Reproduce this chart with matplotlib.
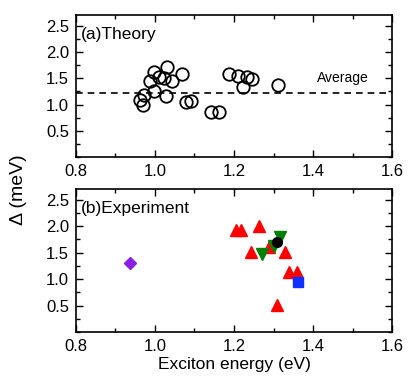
import matplotlib
matplotlib.use("Agg")
import matplotlib.pyplot as plt
from matplotlib.ticker import MultipleLocator

plt.rcParams['font.family'] = ['Liberation Sans', 'DejaVu Sans']

# Theory data
theory_x = [0.962, 0.972, 0.970, 0.997, 0.987, 0.998, 1.011, 1.023, 1.030, 1.028, 1.044,
            1.068, 1.078, 1.091, 1.143, 1.163, 1.188, 1.211, 1.234, 1.223, 1.246, 1.312]
theory_y = [1.09, 1.175, 1.00, 1.61, 1.44, 1.25, 1.52, 1.51, 1.72, 1.16, 1.44,
            1.59, 1.04, 1.07, 0.86, 0.86, 1.575, 1.55, 1.53, 1.325, 1.49, 1.375]
average = 1.225

# Experiment data
red_x = [1.205, 1.218, 1.264, 1.242, 1.288, 1.330, 1.340, 1.360, 1.310]
red_y = [1.925, 1.925, 2.00, 1.52, 1.61, 1.52, 1.125, 1.125, 0.51]
green_x = [1.270, 1.300, 1.316]
green_y = [1.475, 1.63, 1.79]
black_x = [1.310]
black_y = [1.70]
blue_x = [1.362]
blue_y = [0.94]
purple_x = [0.938]
purple_y = [1.30]

fig = plt.figure(figsize=(4.08, 3.88), dpi=100)
ax1 = fig.add_axes([0.186, 0.595, 0.775, 0.366])
ax2 = fig.add_axes([0.186, 0.144, 0.775, 0.369])

for ax in (ax1, ax2):
    ax.set_xlim(0.8, 1.6)
    ax.set_ylim(0.0, 2.7)
    ax.xaxis.set_major_locator(MultipleLocator(0.2))
    ax.xaxis.set_minor_locator(MultipleLocator(0.1))
    ax.yaxis.set_major_locator(MultipleLocator(0.5))
    ax.yaxis.set_minor_locator(MultipleLocator(0.25))
    ax.set_yticks([0.5, 1.0, 1.5, 2.0, 2.5])
    ax.tick_params(which='both', direction='in', top=True, right=True, labelsize=12, width=1)
    ax.tick_params(which='major', length=5, pad=5)
    ax.tick_params(which='minor', length=3)
    ax.xaxis.set_major_formatter(matplotlib.ticker.FormatStrFormatter('%.1f'))
    ax.yaxis.set_major_formatter(matplotlib.ticker.FormatStrFormatter('%.1f'))
    for s in ax.spines.values():
        s.set_linewidth(1.2)

ax1.plot(theory_x, theory_y, 'o', mfc='none', mec='black', ms=9, mew=1.3, ls='none')
ax1.axhline(average, color='black', ls='--', lw=1.2, dashes=(4, 3))
ax1.text(1.41, 1.5, 'Average', fontsize=10, va='center')
ax1.text(0.812, 2.33, '(a)Theory', fontsize=12.5, va='center')

ax2.plot(purple_x, purple_y, 'D', color='#8a1ee6', ms=6, ls='none')
ax2.plot(red_x, red_y, '^', color='red', ms=8, ls='none')
ax2.plot(green_x, green_y, 'v', color='#008000', ms=8, ls='none')
ax2.plot(black_x, black_y, 'o', color='black', ms=7, ls='none')
ax2.plot(blue_x, blue_y, 's', color='#1030ff', ms=6.5, ls='none')
ax2.text(0.812, 2.33, '(b)Experiment', fontsize=12.5, va='center')

ax2.set_xlabel('Exciton energy (eV)', fontsize=12.5, labelpad=2)
fig.text(0.045, 0.51, 'Δ (meV)', rotation=90, fontsize=14, va='center', ha='center')

fig.savefig('out.png', dpi=100)
